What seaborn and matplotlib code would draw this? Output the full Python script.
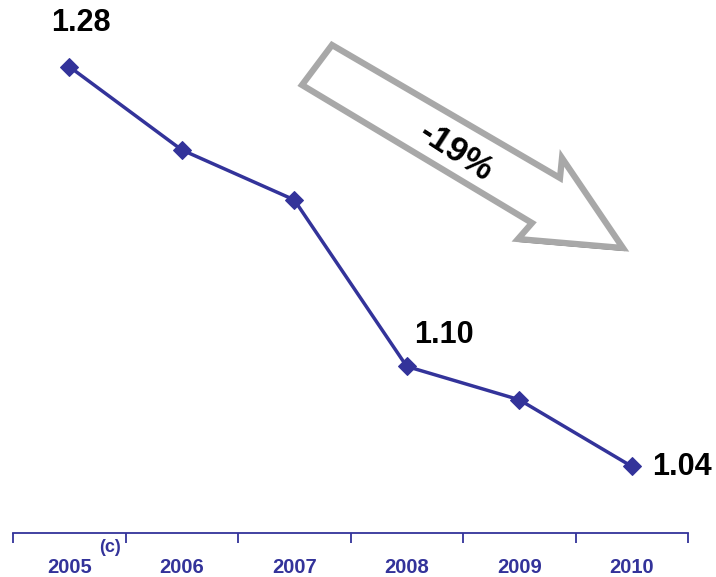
import matplotlib
matplotlib.use("Agg")
import matplotlib.pyplot as plt
from matplotlib.patches import Polygon
import seaborn as sns
import pandas as pd

years = ["2005", "2006", "2007", "2008", "2009", "2010"]
values = [1.28, 1.23, 1.20, 1.10, 1.08, 1.04]
labelled = {0: "1.28", 3: "1.10", 5: "1.04"}
change_text = "-19%"

BLUE = "#33339a"

sns.set_theme(style="white")
plt.rcParams["font.family"] = ["Liberation Sans", "DejaVu Sans"]

W, H = 716, 577
fig = plt.figure(figsize=(W / 100, H / 100), dpi=100)
fig.patch.set_facecolor("white")
ax = fig.add_axes([13 / W, 44 / H, 675 / W, 1 - 44 / H])
ax.set_facecolor("none")

df = pd.DataFrame({"pos": range(len(years)), "value": values})
sns.lineplot(data=df, x="pos", y="value", ax=ax, color=BLUE, linewidth=2.5,
             marker="D", markersize=9, markeredgecolor=BLUE, markerfacecolor=BLUE)

ax.set_xlim(-0.5, len(years) - 0.5)
ax.set_ylim(1.0, 1.32)
ax.set_xlabel("")
ax.set_ylabel("")
ax.set_yticks([])

for s in ("top", "left", "right"):
    ax.spines[s].set_visible(False)
ax.spines["bottom"].set_color(BLUE)
ax.spines["bottom"].set_linewidth(1.3)

ax.set_xticks([i - 0.5 for i in range(len(years) + 1)], minor=True)
ax.set_xticks(range(len(years)))
ax.set_xticklabels(years, fontsize=14.5, fontweight="bold", color=BLUE)
ax.tick_params(axis="x", which="major", length=0, pad=18)
ax.tick_params(axis="x", which="minor", length=7, width=1.3, color=BLUE,
               direction="out", bottom=True)

# value labels
ax.annotate(labelled[0], (0, values[0]), xytext=(12, 44), textcoords="offset pixels",
            ha="center", va="center", fontsize=22, fontweight="bold", color="black")
ax.annotate(labelled[3], (3, values[3]), xytext=(37, 31), textcoords="offset pixels",
            ha="center", va="center", fontsize=22, fontweight="bold", color="black")
ax.annotate(labelled[5], (5, values[5]), xytext=(20, -1), textcoords="offset pixels",
            ha="left", va="center", fontsize=22, fontweight="bold", color="black")

# small footnote mark under the axis
fig.text(110 / W, 1 - 547 / H, "(c)", fontsize=13, fontweight="bold", color=BLUE,
         ha="center", va="center")

# hollow block arrow showing the overall decrease
pts = [(332, 45), (560, 178), (562, 158), (623, 248), (518, 239), (532, 223), (302, 85)]
to_fig = [(x / W, 1 - y / H) for x, y in pts]
shadow = [(x / W + 2 / W, 1 - (y + 2) / H) for x, y in pts]
fig.patches.append(Polygon(shadow, closed=True, transform=fig.transFigure,
                           facecolor="none", edgecolor="#3a3a3a", linewidth=1.6,
                           joinstyle="miter"))
fig.patches.append(Polygon(to_fig, closed=True, transform=fig.transFigure,
                           facecolor="white", edgecolor="#a8a8a8", linewidth=4.5,
                           joinstyle="miter"))
fig.text(456 / W, 1 - 152 / H, change_text, rotation=-33, rotation_mode="anchor",
         ha="center", va="center", fontsize=25, fontweight="bold", color="black")

fig.savefig("out.png", dpi=100, facecolor="white")
